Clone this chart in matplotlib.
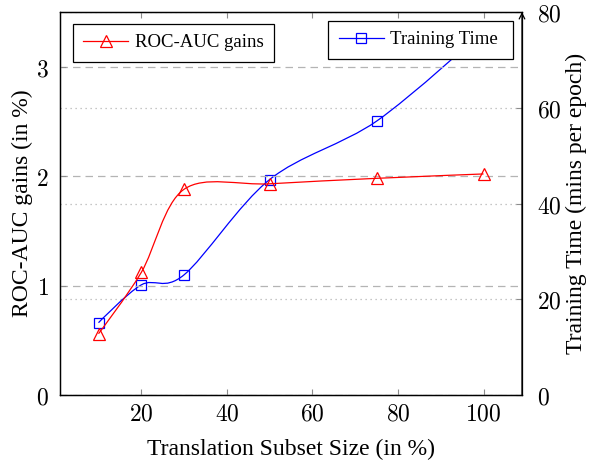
"""
ROC-AUC gains vs training time, by translation subset size (pgfplots look-alike)
"""

import numpy as np
import matplotlib
matplotlib.use('Agg')
import matplotlib.pyplot as plt
from matplotlib.path import Path
from matplotlib.patches import PathPatch
from matplotlib.lines import Line2D

# ─────────────────────────────────────────────
# DATOS
# ─────────────────────────────────────────────
subset_size   = [10, 20, 30, 50, 75, 100]           # eje x, en %
roc_auc_gain  = [0.56, 1.12, 1.88, 1.93, 1.98, 2.02] # eje izq., en %
training_time = [15.1, 23.0, 25.1, 45.0, 57.2, 76.0] # eje der., mins/epoch

x_ticks     = [20, 40, 60, 80, 100]
left_ticks  = [0, 1, 2, 3]
right_ticks = [0, 20, 40, 60, 80]

SERIF = ['Liberation Serif', 'DejaVu Serif']
plt.rcParams['mathtext.fontset'] = 'cm'
GRID_C = '#b4b4b4'
TICK_C = '#8c8c8c'


def smooth_path(x, y, tension=0.16):
    """Curva tipo 'smooth' de TikZ: Bezier cúbica por los puntos."""
    pts = np.column_stack([x, y]).astype(float)
    n = len(pts)
    verts = [pts[0]]
    codes = [Path.MOVETO]
    for i in range(n - 1):
        p0, p1 = pts[i], pts[i + 1]
        c1 = p0 if i == 0 else p0 + tension * (p1 - pts[i - 1])
        c2 = p1 if i == n - 2 else p1 - tension * (pts[i + 2] - p0)
        verts += [c1, c2, p1]
        codes += [Path.CURVE4] * 3
    return Path(verts, codes)


fig = plt.figure(figsize=(5.98, 4.66), dpi=100)
ax = fig.add_axes([60 / 598, 71 / 466, 462 / 598, 383 / 466])
ax2 = ax.twinx()
ax.set_zorder(ax2.get_zorder() + 1)
ax.patch.set_visible(False)

ax.set_xlim(1, 109)
ax.set_ylim(0, 3.5)
ax2.set_ylim(0, 80)

# rejillas
ax.set_yticks(left_ticks)
ax2.set_yticks(right_ticks)
ax.set_xticks(x_ticks)
ax.grid(axis='y', color=GRID_C, ls=(0, (6, 4)), lw=0.9)
ax2.grid(axis='y', color=GRID_C, ls=(0, (1, 3)), lw=0.9)

# series
ax.add_patch(PathPatch(smooth_path(subset_size, roc_auc_gain), fc='none',
                       ec='red', lw=0.9, zorder=3))
ax.plot(subset_size, roc_auc_gain, ls='none', marker='^', ms=8, mfc='none',
        mec='red', mew=0.9, zorder=4)
ax2.add_patch(PathPatch(smooth_path(subset_size, training_time), fc='none',
                        ec='blue', lw=0.9, zorder=3))
ax2.plot(subset_size, training_time, ls='none', marker='s', ms=7.5, mfc='none',
         mec='blue', mew=0.9, zorder=4)

# ejes y marcas
fmt = lambda v, p: f'${v:g}$'
for a in (ax, ax2):
    a.tick_params(direction='in', length=4, width=0.8, color=TICK_C,
                  labelsize=17)
    for s in a.spines.values():
        s.set_linewidth(0.9)
ax.tick_params(axis='x', top=True, pad=5)
ax.tick_params(axis='y', pad=8)
ax2.tick_params(axis='y', pad=11)
ax.xaxis.set_major_formatter(fmt)
ax.yaxis.set_major_formatter(fmt)
ax2.yaxis.set_major_formatter(fmt)
ax2.spines['right'].set_visible(False)
ax2.annotate('', xy=(1, 1.0), xytext=(1, 0), xycoords='axes fraction',
             arrowprops=dict(arrowstyle='->', lw=0.9, color='black',
                             shrinkA=0, shrinkB=0))

ax.set_xlabel('Translation Subset Size (in %)', family=SERIF, fontsize=17,
              labelpad=9)
ax.set_ylabel('ROC-AUC gains (in %)', family=SERIF, fontsize=17, labelpad=2)
ax2.set_ylabel('Training Time (mins per epoch)', family=SERIF, fontsize=17,
               labelpad=3)

# leyendas
red_h = Line2D([], [], color='red', lw=0.9, marker='^', ms=8, mfc='none',
               mec='red', mew=0.9)
blue_h = Line2D([], [], color='blue', lw=0.9, marker='s', ms=7.5, mfc='none',
                mec='blue', mew=0.9)
leg_kw = dict(prop={'family': SERIF, 'size': 13.5}, fancybox=False,
              edgecolor='black', framealpha=1, handlelength=2.4,
              borderpad=0.55, handletextpad=0.35, borderaxespad=0)
l1 = ax.legend([red_h], ['ROC-AUC gains'], loc='upper left',
               bbox_to_anchor=(13 / 462, 1 - 12 / 383), **leg_kw)
l1.get_frame().set_linewidth(0.9)
l2 = ax2.legend([blue_h], ['Training Time '], loc='upper right',
                bbox_to_anchor=(1 - 9 / 462, 1 - 9 / 383), **leg_kw)
l2.get_frame().set_linewidth(0.9)

plt.savefig('out.png', dpi=100)
